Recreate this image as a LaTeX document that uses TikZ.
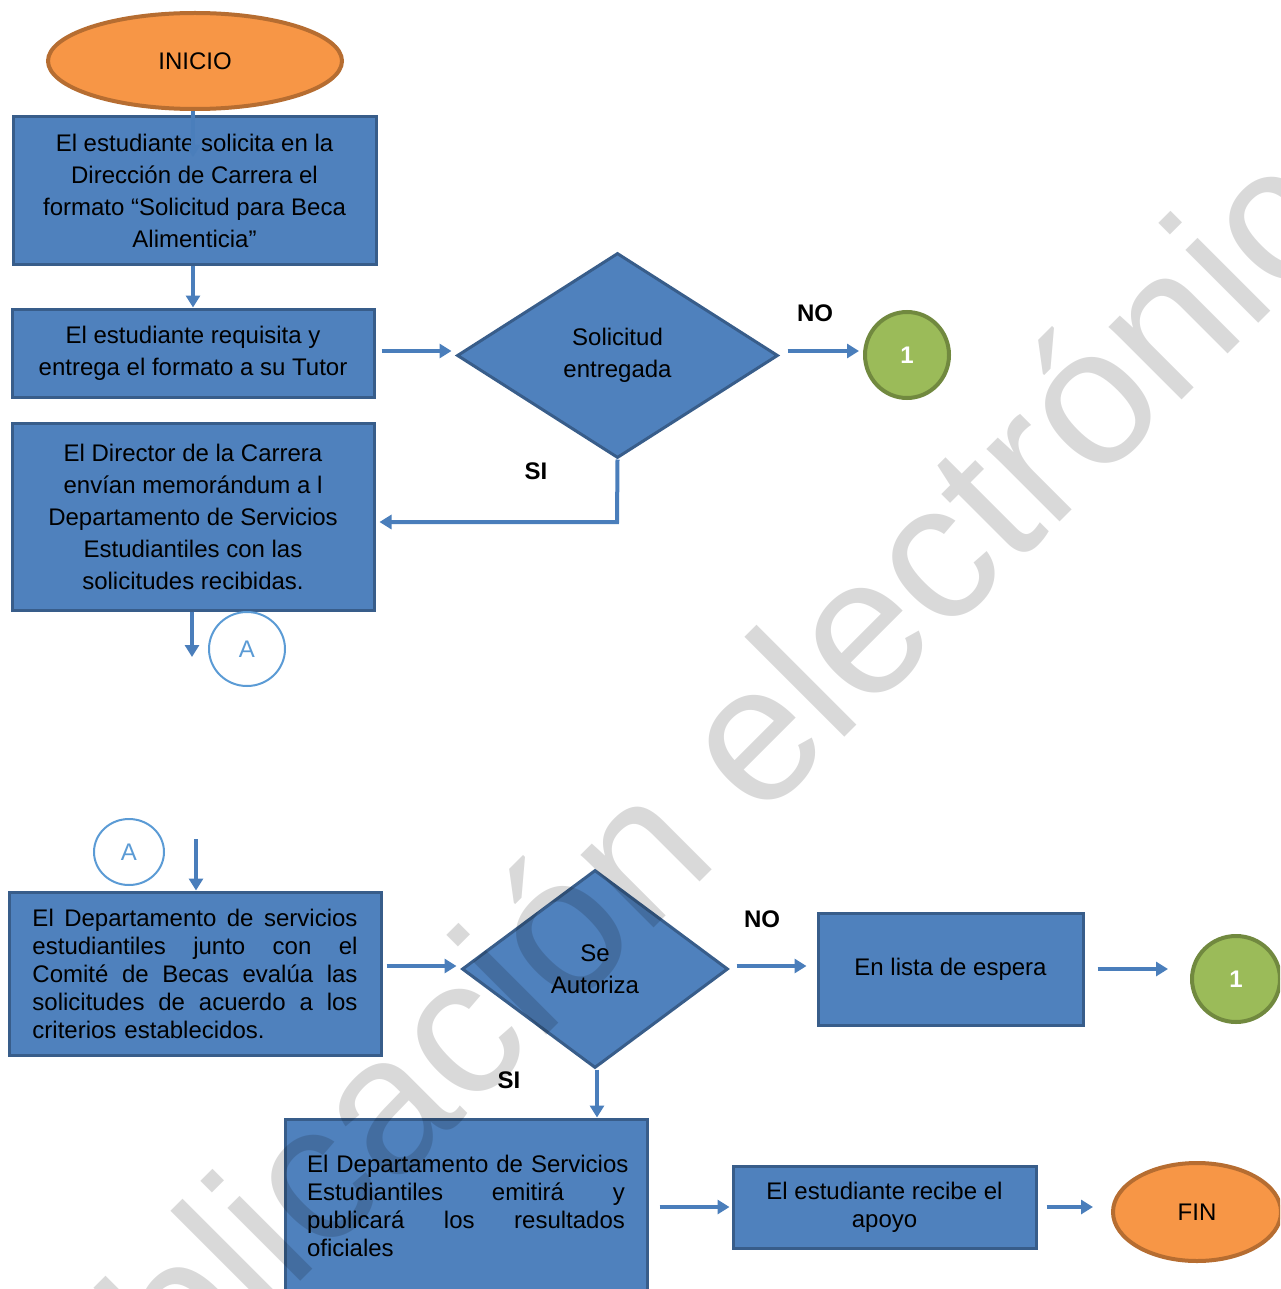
\documentclass[tikz,border=0pt]{standalone}
\usepackage{fontspec}
\setmainfont{Liberation Sans}
\usetikzlibrary{shapes.geometric,arrows.meta}
\definecolor{bfill}{HTML}{4F81BD}
\definecolor{bline}{HTML}{385D8A}
\definecolor{arrc}{HTML}{4A7EBB}
\definecolor{ofill}{HTML}{F79646}
\definecolor{oline}{HTML}{B66D31}
\definecolor{gfill}{HTML}{9BBB59}
\definecolor{gline}{HTML}{71893F}
\definecolor{acol}{HTML}{5B9BD5}
\begin{document}
\begin{tikzpicture}[x=0.5pt,y=-0.5pt,
  box/.style={rectangle, draw=bline, fill=bfill, line width=1.5pt, inner sep=0pt, align=center, font=\fontsize{12}{16}\selectfont},
  dia/.style={diamond, draw=bline, fill=bfill, line width=1.5pt, inner sep=0pt, align=center, font=\fontsize{12}{16}\selectfont},
  term/.style={ellipse, draw=oline, fill=ofill, line width=2pt, inner sep=0pt, font=\fontsize{12}{14}\selectfont},
  conn/.style={ellipse, draw=gline, fill=gfill, line width=2pt, inner sep=0pt, text=white, font=\bfseries\fontsize{12}{14}\selectfont},
  aconn/.style={ellipse, draw=acol, fill=white, line width=1pt, inner sep=0pt, text=acol, font=\fontsize{12}{14}\selectfont},
  arr/.style={draw=arrc, line width=2pt, -{Triangle[length=6pt,width=7pt]}},
  lab/.style={font=\bfseries\fontsize{12}{14}\selectfont, inner sep=0pt}]
\useasboundingbox (0,0) rectangle (1280,1289);
\clip (0,0) rectangle (1280,1289);

% top part
\node[term, minimum width=147pt, minimum height=48pt] (ini) at (195,61) {INICIO};
\node[box, minimum width=181.5pt, minimum height=73.5pt] (b1) at (194.5,190.5)
  {El estudiante solicita en la\\Dirección de Carrera el\\formato “Solicitud para Beca\\Alimenticia”};
\node[box, minimum width=181pt, minimum height=44pt] (b2) at (193,353)
  {El estudiante requisita y\\entrega el formato a su Tutor};
\node[dia, minimum width=160.5pt, minimum height=102.5pt] (d1) at (617.5,355.5)
  {Solicitud\\entregada};
\node[conn, minimum width=42pt, minimum height=43pt] (c1) at (907,355) {1};
\node[box, minimum width=181pt, minimum height=93.5pt] (b3) at (193,516.5)
  {El Director de la Carrera\\envían memorándum a l\\Departamento de Servicios\\Estudiantiles con las\\solicitudes recibidas.};
\node[aconn, minimum width=38pt, minimum height=37pt] (a1) at (247,649) {A};

\coordinate (t1) at (193,157);
\coordinate (s1) at (617,522);
\coordinate (t2) at (192,657);
\draw[arr] (ini.south -| t1) -- (t1);
\draw[arr] (b1.south -| t1) -- (b2.north -| t1);
\draw[arr, shorten <=3pt, shorten >=2pt] (b2.east |- 0,351) -- (d1.west |- 0,351);
\draw[arr, shorten <=4pt, shorten >=2pt] (d1.east |- 0,351) -- (c1.west |- 0,351);
\draw[arr, shorten >=2pt] (d1.south) -- (s1) -- (s1 -| b3.east);
\draw[arr] (b3.south -| t2) -- (t2);
\node[lab] (no1) at (815,313) {NO};
\node[lab] (si1) at (536,471) {SI};

% bottom part
\node[aconn, minimum width=35pt, minimum height=33pt] (a2) at (129,852) {A};
\node[box, minimum width=186pt, minimum height=81.5pt, align=left, text width=162.5pt, font=\fontsize{12}{14}\selectfont] (b4) at (195,973.5)
  {\makebox[162.5pt][l]{El\hfill Departamento\hfill de\hfill servicios}\\
   \makebox[162.5pt][l]{estudiantiles\hfill junto\hfill con\hfill el}\\
   \makebox[162.5pt][l]{Comité\hfill de\hfill Becas\hfill evalúa\hfill las}\\
   \makebox[162.5pt][l]{solicitudes\hfill de\hfill acuerdo\hfill a\hfill los}\\
   criterios establecidos.};
\node[dia, minimum width=133pt, minimum height=99pt] (d2) at (595,969) {Se\\Autoriza};
\node[box, minimum width=132.5pt, minimum height=56pt] (b6) at (950.5,969) {En lista de espera};
\node[conn, minimum width=44pt, minimum height=43pt] (c2) at (1236,979) {1};
\node[box, minimum width=181pt, minimum height=86.5pt, align=left, text width=159pt, font=\fontsize{12}{14}\selectfont] (b5) at (466,1205.5)
  {\makebox[159pt][l]{El Departamento de Servicios}\\
   \makebox[159pt][l]{Estudiantiles\hfill emitirá\hfill y}\\
   \makebox[159pt][l]{publicará\hfill los\hfill resultados}\\
   oficiales};
\node[box, minimum width=151.5pt, minimum height=41pt, font=\fontsize{12}{14}\selectfont] (b7) at (884.5,1207)
  {El estudiante recibe el\\apoyo};
\node[term, minimum width=84pt, minimum height=49pt] (fin) at (1197,1212) {FIN};

\coordinate (t3) at (196,839);
\draw[arr] (t3) -- (t3 |- b4.north);
\draw[arr, shorten <=2pt, shorten >=2pt] (b4.east |- 0,966) -- (d2.west |- 0,966);
\draw[arr, shorten <=3.5pt, shorten >=5pt] (d2.east |- 0,966) -- (b6.west |- 0,966);
\draw[arr, shorten <=6.5pt, shorten >=11pt] (b6.east) -- (b6.east -| c2.west);
\draw[arr] (d2.south -| 597,0) -- (b5.north -| 597,0);
\draw[arr, shorten <=5.5pt, shorten >=1pt] (b5.east |- b7.west) -- (b7.west);
\draw[arr, shorten <=4.5pt, shorten >=9pt] (b7.east) -- (b7.east -| fin.west);
\node[lab] (no2) at (762,919) {NO};
\node[lab] (si2) at (509,1080) {SI};

% watermark
\node[rotate=45, anchor=base west, inner sep=0pt, text=black, text opacity=0.15,
  font=\fontsize{97.5}{100}\selectfont] (wm) at (31,1551) {publicación electrónica};
\end{tikzpicture}
\end{document}
